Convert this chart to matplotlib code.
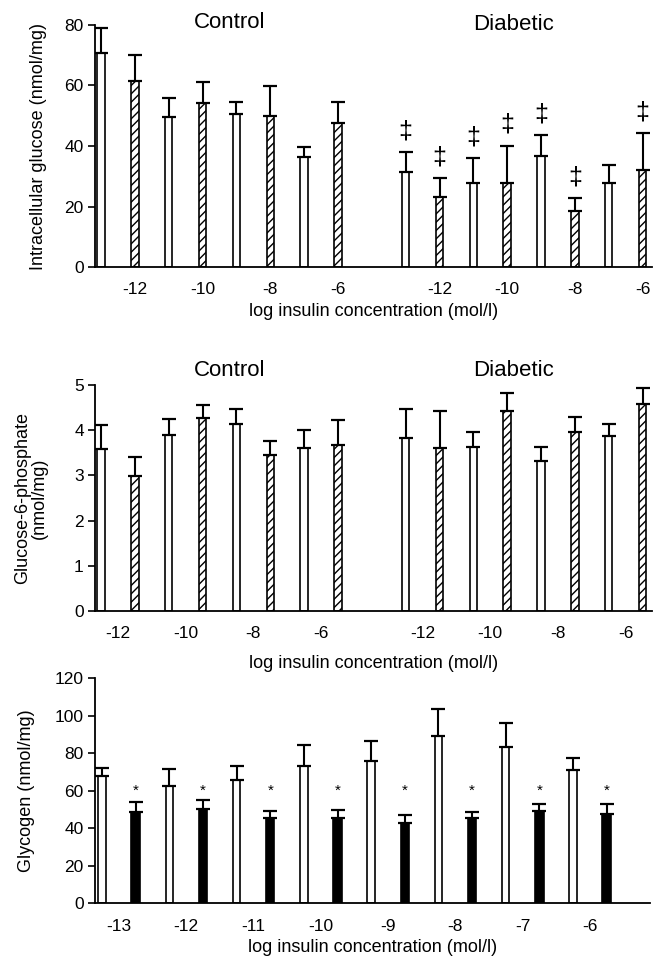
import numpy as np
import matplotlib.pyplot as plt

plt.rcParams['font.family'] = ['Liberation Sans', 'DejaVu Sans']
plt.rcParams['hatch.linewidth'] = 1.0

# --- data -----------------------------------------------------------------
conc = [-13, -12, -11, -10, -9, -8, -7, -6]

glu_ctrl = [70.8, 61.5, 49.5, 54.3, 50.7, 49.9, 36.3, 47.5]
glu_ctrl_err = [8.1, 8.5, 6.3, 7.0, 3.7, 9.9, 3.5, 6.9]
glu_diab = [31.3, 23.0, 27.8, 27.8, 36.7, 18.4, 27.8, 32.0]
glu_diab_err = [6.6, 6.3, 8.1, 12.3, 6.9, 4.4, 5.8, 12.2]
glu_diab_sig = [True, True, True, True, True, True, False, True]

g6p_ctrl = [3.58, 2.99, 3.89, 4.28, 4.13, 3.45, 3.61, 3.67]
g6p_ctrl_err = [0.54, 0.42, 0.35, 0.27, 0.34, 0.31, 0.39, 0.56]
g6p_diab = [3.83, 3.60, 3.64, 4.43, 3.33, 3.95, 3.87, 4.59]
g6p_diab_err = [0.63, 0.83, 0.31, 0.39, 0.31, 0.35, 0.27, 0.34]

gly_ctrl = [68.1, 62.7, 65.6, 73.1, 75.9, 89.2, 83.5, 71.1]
gly_ctrl_err = [4.2, 8.7, 7.5, 11.3, 10.7, 14.3, 12.5, 6.6]
gly_diab = [48.5, 50.3, 45.7, 45.7, 42.7, 45.3, 49.4, 47.5]
gly_diab_err = [5.5, 4.6, 3.4, 4.2, 4.4, 3.4, 3.4, 5.3]
gly_star_y = 60

XLABEL = 'log insulin concentration (mol/l)'
W = 0.22
LW = 1.2
TICK_FS = 12.5
LABEL_FS = 13
TITLE_FS = 16


def bars(ax, x, y, err, hatch=None, face='white', width=W):
    ax.bar(x, y, width=width, color=face, edgecolor='k', linewidth=LW,
           hatch=hatch, zorder=2)
    ax.errorbar(x, y, yerr=[np.zeros(len(y)), err], fmt='none', ecolor='k',
                elinewidth=1.5, capsize=5, capthick=1.6, zorder=3)


def style(ax, ymax, yticks):
    for s in ['top', 'right']:
        ax.spines[s].set_visible(False)
    ax.spines['left'].set_linewidth(1.3)
    ax.spines['bottom'].set_linewidth(1.3)
    ax.set_ylim(0, ymax)
    ax.set_yticks(yticks)
    ax.tick_params(axis='y', length=5, width=1.2, labelsize=TICK_FS, pad=3)
    ax.tick_params(axis='x', length=0, labelsize=TICK_FS, pad=11)


def two_groups(ax, ctrl, ctrl_err, diab, diab_err):
    xc = np.arange(8)
    xd = np.arange(8) + 9
    for xs, v, e in [(xc, ctrl, ctrl_err), (xd, diab, diab_err)]:
        v = np.array(v); e = np.array(e)
        bars(ax, xs[0::2], v[0::2], e[0::2])
        bars(ax, xs[1::2], v[1::2], e[1::2], hatch='////')
    ax.set_xlim(-0.18, 16.27)
    return xc, xd


fig = plt.figure(figsize=(6.55, 9.65), dpi=100)

# --- intracellular glucose ------------------------------------------------
ax1 = fig.add_axes([0.145, 0.7233, 0.850, 0.2508])
xc, xd = two_groups(ax1, glu_ctrl, glu_ctrl_err, glu_diab, glu_diab_err)
style(ax1, 80, [0, 20, 40, 60, 80])
ax1.set_xticks(list(xc[1::2]) + list(xd[1::2]))
ax1.set_xticklabels([str(c) for c in conc[1::2]] * 2)
for x, v, e, s in zip(xd, glu_diab, glu_diab_err, glu_diab_sig):
    if s:
        ax1.annotate('\u2021', (x, v + e), xytext=(0, 15),
                     textcoords='offset points', ha='center', va='center',
                     fontsize=18)
ax1.text(3.8, 80.7, 'Control', ha='center', va='center', fontsize=TITLE_FS)
ax1.text(12.2, 80.0, 'Diabetic', ha='center', va='center', fontsize=TITLE_FS)
ax1.set_ylabel('Intracellular glucose (nmol/mg)', fontsize=LABEL_FS,
               labelpad=13)
ax1.set_xlabel(XLABEL, fontsize=LABEL_FS, labelpad=4)

# --- glucose-6-phosphate --------------------------------------------------
ax2 = fig.add_axes([0.145, 0.3668, 0.850, 0.2342])
xc, xd = two_groups(ax2, g6p_ctrl, g6p_ctrl_err, g6p_diab, g6p_diab_err)
style(ax2, 5, [0, 1, 2, 3, 4, 5])
ax2.set_xticks(list(xc[0::2] + 0.5) + list(xd[0::2] + 0.5))
ax2.set_xticklabels([str(c) for c in conc[1::2]] * 2)
ax2.text(3.8, 5.33, 'Control', ha='center', va='center', fontsize=TITLE_FS)
ax2.text(12.2, 5.33, 'Diabetic', ha='center', va='center', fontsize=TITLE_FS)
ax2.set_ylabel('Glucose-6-phosphate\n(nmol/mg)', fontsize=LABEL_FS,
               labelpad=19, linespacing=1.0)
ax2.set_xlabel(XLABEL, fontsize=LABEL_FS, labelpad=10)

# --- glycogen -------------------------------------------------------------
ax3 = fig.add_axes([0.145, 0.0639, 0.847, 0.2332])
xw = np.arange(8) * 2
xb = xw + 1
bars(ax3, xw, np.array(gly_ctrl), np.array(gly_ctrl_err))
bars(ax3, xb, np.array(gly_diab), np.array(gly_diab_err), face='black',
     width=0.25)
for x in xb:
    ax3.text(x, gly_star_y, '*', ha='center', va='center', fontsize=11)
ax3.set_xlim(-0.21, 16.28)
style(ax3, 120, [0, 20, 40, 60, 80, 100, 120])
ax3.set_xticks(xw + 0.5)
ax3.set_xticklabels([str(c) for c in conc])
ax3.set_ylabel('Glycogen (nmol/mg)', fontsize=LABEL_FS, labelpad=14)
ax3.set_xlabel(XLABEL, fontsize=LABEL_FS, labelpad=4)

fig.savefig('out.png', dpi=100, facecolor='white')
